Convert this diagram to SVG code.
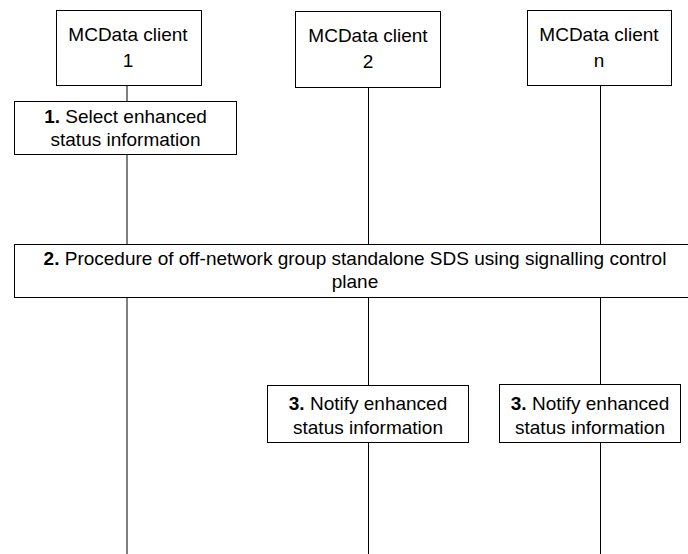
<svg xmlns="http://www.w3.org/2000/svg" width="688" height="554" viewBox="0 0 688 554">
<style>
.box{fill:#fff;stroke:#000;stroke-width:1}
.t{font-family:"Liberation Sans",Arial,sans-serif;font-size:19px;fill:#000;text-anchor:middle}
.n{font-weight:bold}
.ll{stroke:#000;stroke-width:1}
</style>
<rect width="688" height="554" fill="#fff"/>
<g id="connectors">
<line class="ll" x1="127" y1="85" x2="127" y2="101"/>
<line class="ll" x1="127" y1="154" x2="127" y2="244"/>
<line class="ll" x1="127" y1="298" x2="127" y2="554"/>
<line class="ll" x1="368.5" y1="87" x2="368.5" y2="244"/>
<line class="ll" x1="368.5" y1="298" x2="368.5" y2="385"/>
<line class="ll" x1="368.5" y1="443" x2="368.5" y2="554"/>
<line class="ll" x1="600.5" y1="85" x2="600.5" y2="244"/>
<line class="ll" x1="600.5" y1="298" x2="600.5" y2="384"/>
<line class="ll" x1="600.5" y1="443" x2="600.5" y2="554"/>
</g>
<g id="client1">
<rect class="box" x="56.5" y="10.5" width="145" height="75"/>
<text class="t" x="128" y="41">MCData client</text>
<text class="t" x="128" y="67">1</text>
</g>
<g id="client2">
<rect class="box" x="295.5" y="11.5" width="145" height="76"/>
<text class="t" x="368" y="42">MCData client</text>
<text class="t" x="368" y="68">2</text>
</g>
<g id="clientn">
<rect class="box" x="527.5" y="10.5" width="144" height="75"/>
<text class="t" x="599" y="41">MCData client</text>
<text class="t" x="599" y="67">n</text>
</g>
<g id="step1">
<rect class="box" x="14.5" y="101.5" width="222" height="53"/>
<text class="t" x="125.5" y="123"><tspan class="n">1.</tspan> Select enhanced</text>
<text class="t" x="125.5" y="146">status information</text>
</g>
<g id="step2">
<rect class="box" x="14.5" y="244.5" width="690" height="53"/>
<text class="t" x="355" y="265"><tspan class="n">2.</tspan> Procedure of off-network group standalone SDS using signalling control</text>
<text class="t" x="355" y="288">plane</text>
</g>
<g id="step3a">
<rect class="box" x="267.5" y="385.5" width="201" height="57"/>
<text class="t" x="368" y="410"><tspan class="n">3.</tspan> Notify enhanced</text>
<text class="t" x="368" y="434">status information</text>
</g>
<g id="step3b">
<rect class="box" x="499.5" y="384.5" width="181" height="58"/>
<text class="t" x="590" y="410"><tspan class="n">3.</tspan> Notify enhanced</text>
<text class="t" x="590" y="434">status information</text>
</g>
</svg>
